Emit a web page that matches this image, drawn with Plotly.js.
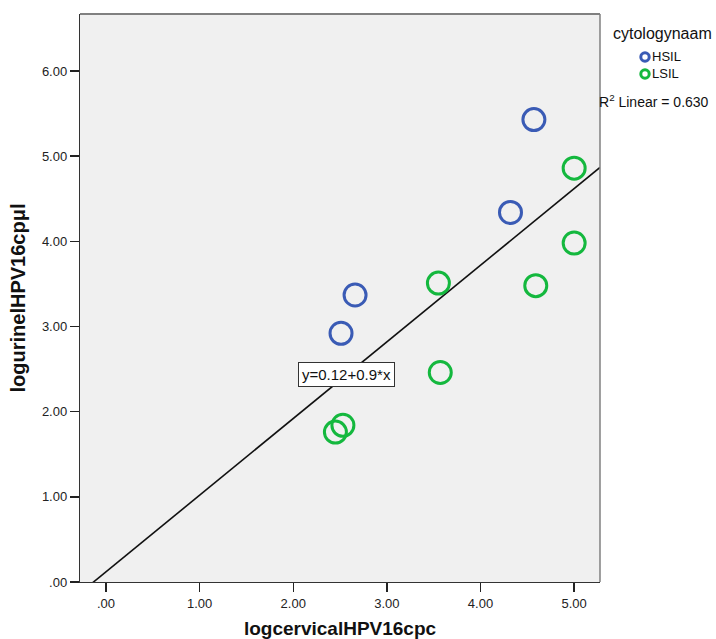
<!DOCTYPE html>
<html>
<head>
<meta charset="utf-8">
<script src="https://cdn.plot.ly/plotly-3.0.1.min.js"></script>
<style>html,body{margin:0;padding:0;background:#fff;}#chart{width:716px;height:639px;}</style>
</head>
<body>
<div id="chart"></div>
<script>
// Data
const hsilX = [4.57, 4.32, 2.66, 2.51];
const hsilY = [5.43, 4.34, 3.37, 2.92];
const lsilX = [5.00, 5.00, 4.59, 3.55, 3.57, 2.53, 2.45];
const lsilY = [4.86, 3.98, 3.48, 3.51, 2.46, 1.84, 1.76];
const fitIntercept = 0.12;
const fitSlope = 0.9;
const rSquared = '0.630';
const xRange = [-0.278, 5.276];
const yRange = [0, 6.67];
const tickVals = [0, 1, 2, 3, 4, 5, 6];
const tickText = ['.00', '1.00', '2.00', '3.00', '4.00', '5.00', '6.00'];
const seriesNames = ['HSIL', 'LSIL'];
const legendTitle = 'cytologynaam';
const colors = ['#3a5bb5', '#14b83e'];

const fitX = xRange.slice();
const fitY = fitX.map(x => fitIntercept + fitSlope * x);

const font = 'Arial, "Liberation Sans", sans-serif';
const W = 716, H = 639, M = {l: 80, r: 116, t: 14, b: 57};
const pw = W - M.l - M.r, ph = H - M.t - M.b;
const px = x => (x - M.l) / pw;          // pixel -> paper x
const py = y => (H - M.b - y) / ph;      // pixel -> paper y

const traces = [
  {x: fitX, y: fitY, mode: 'lines', line: {color: '#111', width: 1.6}, showlegend: false, hoverinfo: 'skip'},
  {x: hsilX, y: hsilY, mode: 'markers', name: seriesNames[0], showlegend: false,
   marker: {symbol: 'circle-open', size: 22, color: colors[0], line: {width: 3, color: colors[0]}}},
  {x: lsilX, y: lsilY, mode: 'markers', name: seriesNames[1], showlegend: false,
   marker: {symbol: 'circle-open', size: 22, color: colors[1], line: {width: 3, color: colors[1]}}}
];

const axisCommon = {
  showgrid: false, zeroline: false, showline: true, linecolor: '#333', linewidth: 1.2,
  ticks: 'outside', ticklen: 9, tickwidth: 1.5, tickcolor: '#222',
  tickfont: {family: font, size: 13, color: '#222'},
  tickvals: tickVals, ticktext: tickText, fixedrange: true
};

const shapes = [
  {type: 'line', xref: 'paper', yref: 'paper', x0: 0, x1: 1, y0: 1, y1: 1, line: {color: '#808080', width: 2}},
  {type: 'line', xref: 'paper', yref: 'paper', x0: 1, x1: 1, y0: 0, y1: 1, line: {color: '#808080', width: 1.5}}
];
const annotations = [
  {x: 2.57, y: 2.44, xref: 'x', yref: 'y', text: 'y=' + fitIntercept + '+' + fitSlope + '*x', showarrow: false,
   font: {family: font, size: 15, color: '#111'}, bgcolor: '#fff', bordercolor: '#333', borderwidth: 1, borderpad: 3},
  {x: px(597), y: py(101), xref: 'paper', yref: 'paper', text: 'R<sup>2</sup> Linear = ' + rSquared, showarrow: false,
   font: {family: font, size: 14, color: '#111'}, xanchor: 'left', yanchor: 'middle'},
  {x: px(662), y: py(33), xref: 'paper', yref: 'paper', text: legendTitle, showarrow: false,
   font: {family: font, size: 16, color: '#111'}, xanchor: 'center', yanchor: 'middle'}
];
// custom legend
const legendRows = [57, 74];
seriesNames.forEach((name, i) => {
  shapes.push({type: 'circle', xref: 'paper', yref: 'paper', xsizemode: 'pixel', ysizemode: 'pixel',
    xanchor: px(645), yanchor: py(legendRows[i]), x0: -4.2, x1: 4.2, y0: -4.2, y1: 4.2,
    line: {color: colors[i], width: 3}});
  annotations.push({x: px(650), y: py(legendRows[i]), xref: 'paper', yref: 'paper', text: name, showarrow: false,
    font: {family: font, size: 13, color: '#111'}, xanchor: 'left', yanchor: 'middle'});
});

const layout = {
  width: W, height: H, margin: M,
  paper_bgcolor: '#fff', plot_bgcolor: '#f0f0f0',
  xaxis: Object.assign({}, axisCommon, {range: xRange,
    title: {text: 'logcervicalHPV16cpc', font: {family: font, size: 19, color: '#111', weight: 'bold'}, standoff: 15}}),
  yaxis: Object.assign({}, axisCommon, {range: yRange,
    title: {text: 'logurinelHPV16cpμl', font: {family: font, size: 20, color: '#111', weight: 'bold'}, standoff: 10}}),
  showlegend: false,
  shapes: shapes,
  annotations: annotations
};

Plotly.newPlot('chart', traces, layout, {displayModeBar: false, staticPlot: true});
</script>
</body>
</html>
